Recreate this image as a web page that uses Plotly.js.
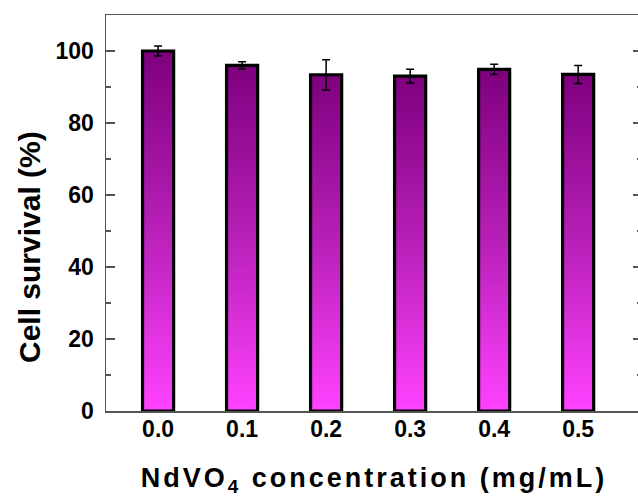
<!DOCTYPE html>
<html>
<head>
<meta charset="utf-8">
<script src="https://cdn.plot.ly/plotly-3.0.1.min.js"></script>
<style>
  html, body { margin: 0; padding: 0; overflow: hidden; background: #fff; }
  #chart { width: 660px; height: 497px; }
  .xtitle { letter-spacing: 3px; }
</style>
</head>
<body>
<div id="chart"></div>
<script>
// Data
const concentrations = ["0.0", "0.1", "0.2", "0.3", "0.4", "0.5"];
const survival = [100.0, 96.0, 93.4, 93.0, 94.9, 93.5];
const survivalErr = [1.4, 1.0, 4.2, 1.9, 1.4, 2.5];
const yTickVals = [0, 20, 40, 60, 80, 100];

const FONT = "Arial, 'Liberation Sans', sans-serif";

const trace = {
  type: "bar",
  x: concentrations,
  y: survival,
  width: 0.37,
  marker: { color: "#c020c0", line: { color: "#000", width: 3.2 } },
  error_y: { type: "data", array: survivalErr, visible: true, color: "#000", thickness: 1.5, width: 4 },
  hoverinfo: "none"
};

const layout = {
  width: 660,
  height: 497,
  margin: { l: 106, r: 18, t: 15, b: 86 },
  paper_bgcolor: "#fff",
  plot_bgcolor: "#fff",
  showlegend: false,
  font: { family: FONT, color: "#000" },
  xaxis: {
    type: "category",
    range: [-0.62, 5.76],
    showline: true, linecolor: "#555", linewidth: 1.5, mirror: true,
    ticks: "", showgrid: false, zeroline: false,
    tickfont: { family: FONT, size: 23, weight: "bold", color: "#000" },
    ticklabelstandoff: -3,
    title: { text: "NdVO<sub>4</sub> concentration (mg/mL)", font: { family: FONT, size: 27, weight: "bold", color: "#000" }, standoff: 28 }
  },
  yaxis: {
    range: [0, 110],
    tickvals: yTickVals,
    showline: true, linecolor: "#555", linewidth: 1.5, mirror: "allticks",
    ticks: "inside", ticklen: 9, tickwidth: 1.5, tickcolor: "#555",
    minor: { dtick: 10, ticks: "inside", ticklen: 5, tickwidth: 1.5, tickcolor: "#555", showgrid: false },
    showgrid: false, zeroline: false,
    tickfont: { family: FONT, size: 23, weight: "bold", color: "#000" },
    ticklabelstandoff: 6
  },
  annotations: [{
    text: "Cell survival (%)",
    xref: "paper", yref: "paper",
    x: -0.1437, y: 0.414,
    xanchor: "center", yanchor: "middle",
    textangle: -90, showarrow: false,
    font: { family: FONT, size: 30, weight: "bold", color: "#000" }
  }]
};

Plotly.newPlot("chart", [trace], layout, { staticPlot: true, displayModeBar: false }).then(function (gd) {
  const svg = gd.querySelector("svg.main-svg");
  const ns = "http://www.w3.org/2000/svg";
  let defs = svg.querySelector("defs");
  if (!defs) { defs = document.createElementNS(ns, "defs"); svg.insertBefore(defs, svg.firstChild); }
  const grad = document.createElementNS(ns, "linearGradient");
  grad.setAttribute("id", "barGrad");
  grad.setAttribute("x1", "0"); grad.setAttribute("y1", "0");
  grad.setAttribute("x2", "0"); grad.setAttribute("y2", "1");
  [["0", "#7e007e"], ["0.5", "#b820b8"], ["1", "#ff42ff"]].forEach(function (s) {
    const st = document.createElementNS(ns, "stop");
    st.setAttribute("offset", s[0]);
    st.setAttribute("stop-color", s[1]);
    grad.appendChild(st);
  });
  defs.appendChild(grad);
  gd.querySelectorAll(".bars .point path").forEach(function (p) {
    p.style.fill = "url(#barGrad)";
  });
});
</script>
</body>
</html>
